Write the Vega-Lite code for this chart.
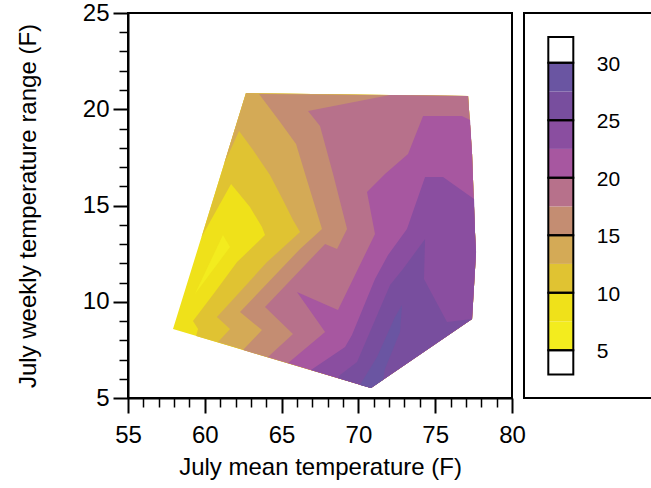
{
  "$schema": "https://vega.github.io/schema/vega-lite/v6.json",
  "background": "white",
  "padding": {"left": 15, "top": 0, "right": 0, "bottom": 5},
  "bounds": "flush",
  "spacing": 12,
  "resolve": {"scale": {"fill": "independent", "x": "independent", "y": "independent"}},
  "config": {
    "font": "Liberation Sans",
    "view": {"stroke": "black", "strokeWidth": 2},
    "axis": {
      "domainColor": "black", "domainWidth": 2, "tickColor": "black",
      "labelColor": "black", "titleColor": "black",
      "labelFontSize": 24, "titleFontSize": 24, "titleFontWeight": "normal",
      "grid": false, "labelFlush": false, "labelOverlap": false
    }
  },
  "datasets": {
    "contours": [
      {"p":"p0","b":"7.5","i":0,"x":62.68,"y":20.84},
      {"p":"p0","b":"7.5","i":1,"x":77.14,"y":20.69},
      {"p":"p0","b":"7.5","i":2,"x":77.40,"y":17.68},
      {"p":"p0","b":"7.5","i":3,"x":77.59,"y":13.62},
      {"p":"p0","b":"7.5","i":4,"x":77.66,"y":12.58},
      {"p":"p0","b":"7.5","i":5,"x":77.40,"y":9.10},
      {"p":"p0","b":"7.5","i":6,"x":70.82,"y":5.52},
      {"p":"p0","b":"7.5","i":7,"x":57.93,"y":8.58},

      {"p":"p1","b":"5","i":0,"x":61.18,"y":13.47},
      {"p":"p1","b":"5","i":1,"x":61.64,"y":12.84},
      {"p":"p1","b":"5","i":2,"x":59.36,"y":10.40},

      {"p":"p2","b":"10","i":0,"x":59.79,"y":13.36},
      {"p":"p2","b":"10","i":1,"x":61.71,"y":16.12},
      {"p":"p2","b":"10","i":2,"x":62.94,"y":14.92},
      {"p":"p2","b":"10","i":3,"x":63.72,"y":13.88},
      {"p":"p2","b":"10","i":4,"x":63.92,"y":13.47},
      {"p":"p2","b":"10","i":5,"x":62.10,"y":12.06},
      {"p":"p2","b":"10","i":6,"x":60.66,"y":10.51},
      {"p":"p2","b":"10","i":7,"x":59.23,"y":9.00},
      {"p":"p2","b":"10","i":8,"x":59.56,"y":8.58},
      {"p":"p2","b":"10","i":9,"x":59.43,"y":8.22},
      {"p":"p2","b":"10","i":10,"x":70.82,"y":5.52},
      {"p":"p2","b":"10","i":11,"x":77.40,"y":9.10},
      {"p":"p2","b":"10","i":12,"x":77.66,"y":12.58},
      {"p":"p2","b":"10","i":13,"x":77.59,"y":13.62},
      {"p":"p2","b":"10","i":14,"x":77.40,"y":17.68},
      {"p":"p2","b":"10","i":15,"x":77.14,"y":20.69},
      {"p":"p2","b":"10","i":16,"x":62.68,"y":20.84},

      {"p":"p3","b":"12.5","i":0,"x":61.25,"y":17.16},
      {"p":"p3","b":"12.5","i":1,"x":62.23,"y":18.87},
      {"p":"p3","b":"12.5","i":2,"x":63.14,"y":17.88},
      {"p":"p3","b":"12.5","i":3,"x":64.24,"y":16.58},
      {"p":"p3","b":"12.5","i":4,"x":65.09,"y":15.29},
      {"p":"p3","b":"12.5","i":5,"x":65.74,"y":14.25},
      {"p":"p3","b":"12.5","i":6,"x":66.20,"y":13.62},
      {"p":"p3","b":"12.5","i":7,"x":64.05,"y":12.06},
      {"p":"p3","b":"12.5","i":8,"x":60.79,"y":9.21},
      {"p":"p3","b":"12.5","i":9,"x":61.64,"y":8.58},
      {"p":"p3","b":"12.5","i":10,"x":60.86,"y":7.91},
      {"p":"p3","b":"12.5","i":11,"x":70.82,"y":5.52},
      {"p":"p3","b":"12.5","i":12,"x":77.40,"y":9.10},
      {"p":"p3","b":"12.5","i":13,"x":77.66,"y":12.58},
      {"p":"p3","b":"12.5","i":14,"x":77.59,"y":13.62},
      {"p":"p3","b":"12.5","i":15,"x":77.40,"y":17.68},
      {"p":"p3","b":"12.5","i":16,"x":77.14,"y":20.69},
      {"p":"p3","b":"12.5","i":17,"x":62.68,"y":20.84},

      {"p":"p4","b":"15","i":0,"x":63.53,"y":20.79},
      {"p":"p4","b":"15","i":1,"x":64.90,"y":19.34},
      {"p":"p4","b":"15","i":2,"x":65.94,"y":18.19},
      {"p":"p4","b":"15","i":3,"x":66.59,"y":16.48},
      {"p":"p4","b":"15","i":4,"x":67.63,"y":13.78},
      {"p":"p4","b":"15","i":5,"x":66.20,"y":12.74},
      {"p":"p4","b":"15","i":6,"x":62.29,"y":9.47},
      {"p":"p4","b":"15","i":7,"x":63.72,"y":8.53},
      {"p":"p4","b":"15","i":8,"x":62.49,"y":7.49},
      {"p":"p4","b":"15","i":9,"x":70.82,"y":5.52},
      {"p":"p4","b":"15","i":10,"x":77.40,"y":9.10},
      {"p":"p4","b":"15","i":11,"x":77.66,"y":12.58},
      {"p":"p4","b":"15","i":12,"x":77.59,"y":13.62},
      {"p":"p4","b":"15","i":13,"x":77.40,"y":17.68},
      {"p":"p4","b":"15","i":14,"x":77.14,"y":20.69},

      {"p":"p5","b":"17.5","i":0,"x":72.06,"y":20.74},
      {"p":"p5","b":"17.5","i":1,"x":66.72,"y":19.91},
      {"p":"p5","b":"17.5","i":2,"x":67.50,"y":19.13},
      {"p":"p5","b":"17.5","i":3,"x":68.35,"y":16.64},
      {"p":"p5","b":"17.5","i":4,"x":69.26,"y":13.78},
      {"p":"p5","b":"17.5","i":5,"x":68.61,"y":12.74},
      {"p":"p5","b":"17.5","i":6,"x":67.83,"y":13.00},
      {"p":"p5","b":"17.5","i":7,"x":63.92,"y":9.73},
      {"p":"p5","b":"17.5","i":8,"x":65.74,"y":8.32},
      {"p":"p5","b":"17.5","i":9,"x":64.11,"y":7.13},
      {"p":"p5","b":"17.5","i":10,"x":70.82,"y":5.52},
      {"p":"p5","b":"17.5","i":11,"x":77.40,"y":9.10},
      {"p":"p5","b":"17.5","i":12,"x":77.66,"y":12.58},
      {"p":"p5","b":"17.5","i":13,"x":77.59,"y":13.62},
      {"p":"p5","b":"17.5","i":14,"x":77.40,"y":17.68},
      {"p":"p5","b":"17.5","i":15,"x":77.14,"y":20.69},

      {"p":"p6","b":"20","i":0,"x":77.27,"y":19.44},
      {"p":"p6","b":"20","i":1,"x":76.74,"y":19.65},
      {"p":"p6","b":"20","i":2,"x":74.21,"y":19.65},
      {"p":"p6","b":"20","i":3,"x":73.23,"y":17.68},
      {"p":"p6","b":"20","i":4,"x":71.73,"y":16.64},
      {"p":"p6","b":"20","i":5,"x":70.56,"y":15.70},
      {"p":"p6","b":"20","i":6,"x":71.08,"y":13.52},
      {"p":"p6","b":"20","i":7,"x":68.67,"y":9.57},
      {"p":"p6","b":"20","i":8,"x":66.00,"y":10.51},
      {"p":"p6","b":"20","i":9,"x":67.83,"y":8.43},
      {"p":"p6","b":"20","i":10,"x":65.42,"y":6.82},
      {"p":"p6","b":"20","i":11,"x":70.82,"y":5.52},
      {"p":"p6","b":"20","i":12,"x":77.40,"y":9.10},
      {"p":"p6","b":"20","i":13,"x":77.66,"y":12.58},
      {"p":"p6","b":"20","i":14,"x":77.59,"y":13.62},
      {"p":"p6","b":"20","i":15,"x":77.40,"y":17.68},

      {"p":"p7","b":"22.5","i":0,"x":77.53,"y":15.34},
      {"p":"p7","b":"22.5","i":1,"x":75.51,"y":16.48},
      {"p":"p7","b":"22.5","i":2,"x":74.34,"y":16.48},
      {"p":"p7","b":"22.5","i":3,"x":73.16,"y":13.78},
      {"p":"p7","b":"22.5","i":4,"x":71.93,"y":12.43},
      {"p":"p7","b":"22.5","i":5,"x":71.08,"y":11.18},
      {"p":"p7","b":"22.5","i":6,"x":69.58,"y":8.27},
      {"p":"p7","b":"22.5","i":7,"x":69.13,"y":7.65},
      {"p":"p7","b":"22.5","i":8,"x":66.91,"y":6.45},
      {"p":"p7","b":"22.5","i":9,"x":70.82,"y":5.52},
      {"p":"p7","b":"22.5","i":10,"x":77.40,"y":9.10},
      {"p":"p7","b":"22.5","i":11,"x":77.66,"y":12.58},
      {"p":"p7","b":"22.5","i":12,"x":77.59,"y":13.62},

      {"p":"p8","b":"25","i":0,"x":77.40,"y":9.10},
      {"p":"p8","b":"25","i":1,"x":75.77,"y":8.95},
      {"p":"p8","b":"25","i":2,"x":74.27,"y":11.18},
      {"p":"p8","b":"25","i":3,"x":74.34,"y":13.26},
      {"p":"p8","b":"25","i":4,"x":72.90,"y":11.70},
      {"p":"p8","b":"25","i":5,"x":72.06,"y":10.87},
      {"p":"p8","b":"25","i":6,"x":69.91,"y":6.87},
      {"p":"p8","b":"25","i":7,"x":68.80,"y":6.19},
      {"p":"p8","b":"25","i":8,"x":68.67,"y":6.04},
      {"p":"p8","b":"25","i":9,"x":70.82,"y":5.52},

      {"p":"p9","b":"27.5","i":0,"x":72.84,"y":9.83},
      {"p":"p9","b":"27.5","i":1,"x":72.71,"y":8.43},
      {"p":"p9","b":"27.5","i":2,"x":71.73,"y":6.51},
      {"p":"p9","b":"27.5","i":3,"x":71.60,"y":5.94},
      {"p":"p9","b":"27.5","i":4,"x":70.82,"y":5.52},
      {"p":"p9","b":"27.5","i":5,"x":70.10,"y":5.68},
      {"p":"p9","b":"27.5","i":6,"x":71.21,"y":7.13},
      {"p":"p9","b":"27.5","i":7,"x":72.38,"y":9.21}
    ],
    "cbands": [
      {"bar":"c","b":"white","lo":2.88,"hi":5},
      {"bar":"c","b":"5","lo":5,"hi":7.5},
      {"bar":"c","b":"7.5","lo":7.5,"hi":10},
      {"bar":"c","b":"10","lo":10,"hi":12.5},
      {"bar":"c","b":"12.5","lo":12.5,"hi":15},
      {"bar":"c","b":"15","lo":15,"hi":17.5},
      {"bar":"c","b":"17.5","lo":17.5,"hi":20},
      {"bar":"c","b":"20","lo":20,"hi":22.5},
      {"bar":"c","b":"22.5","lo":22.5,"hi":25},
      {"bar":"c","b":"25","lo":25,"hi":27.5},
      {"bar":"c","b":"27.5","lo":27.5,"hi":30},
      {"bar":"c","b":"white","lo":30,"hi":32.23}
    ],
    "cboxes": [
      {"bar":"c","lo":2.88,"hi":5},
      {"bar":"c","lo":5,"hi":10},
      {"bar":"c","lo":10,"hi":15},
      {"bar":"c","lo":15,"hi":20},
      {"bar":"c","lo":20,"hi":25},
      {"bar":"c","lo":25,"hi":30},
      {"bar":"c","lo":30,"hi":32.23}
    ],
    "clabels": [
      {"bar":"c","v":5},
      {"bar":"c","v":10},
      {"bar":"c","v":15},
      {"bar":"c","v":20},
      {"bar":"c","v":25},
      {"bar":"c","v":30}
    ]
  },
  "hconcat": [
    {
      "width": 384,
      "height": 385,
      "data": {"name": "contours"},
      "mark": {"type": "line", "strokeWidth": 0, "interpolate": "linear", "clip": true},
      "encoding": {
        "x": {
          "field": "x", "type": "quantitative",
          "scale": {"domain": [55, 80], "nice": false, "zero": false},
          "axis": {
            "title": "July mean temperature (F)",
            "values": [55,56,57,58,59,60,61,62,63,64,65,66,67,68,69,70,71,72,73,74,75,76,77,78,79,80],
            "labelExpr": "datum.value % 5 === 0 ? datum.label : ''",
            "tickSize": {"condition": {"test": "datum.value % 5 === 0", "value": 15}, "value": 9},
            "tickWidth": {"condition": {"test": "datum.value % 5 === 0", "value": 2}, "value": 1.5},
            "labelPadding": 10,
            "titlePadding": 8
          }
        },
        "y": {
          "field": "y", "type": "quantitative",
          "scale": {"domain": [5, 25], "nice": false, "zero": false},
          "axis": {
            "title": "July weekly temperature range (F)",
            "values": [5,6,7,8,9,10,11,12,13,14,15,16,17,18,19,20,21,22,23,24,25],
            "labelExpr": "datum.value % 5 === 0 ? datum.label : ''",
            "tickSize": {"condition": {"test": "datum.value % 5 === 0", "value": 15}, "value": 9},
            "tickWidth": {"condition": {"test": "datum.value % 5 === 0", "value": 2}, "value": 1.5},
            "labelPadding": 4,
            "titlePadding": 42
          }
        },
        "detail": {"field": "p"},
        "order": {"field": "i", "type": "quantitative"},
        "fill": {
          "field": "b", "type": "nominal", "legend": null,
          "scale": {
            "domain": ["5","7.5","10","12.5","15","17.5","20","22.5","25","27.5"],
            "range": ["#f3ec1e","#efe11a","#e0c332","#d4aa56","#c48d72","#b7718b","#a757a0","#8a4ea0","#784e9e","#6a55a2"]
          }
        }
      }
    },
    {
      "width": 140,
      "height": 385,
      "layer": [
        {
          "data": {"name": "cbands"},
          "mark": {"type": "rect", "strokeWidth": 0, "width": 25},
          "encoding": {
            "x": {"field": "bar", "type": "nominal", "axis": null,
                  "scale": {"type": "band", "paddingInner": 0, "paddingOuter": 1, "align": 0.1443}},
            "y": {"field": "lo", "type": "quantitative", "axis": null,
                  "scale": {"domain": [0.84, 34.32], "nice": false, "zero": false}},
            "y2": {"field": "hi"},
            "fill": {
              "field": "b", "type": "nominal", "legend": null,
              "scale": {
                "domain": ["white","5","7.5","10","12.5","15","17.5","20","22.5","25","27.5"],
                "range": ["#ffffff","#f3ec1e","#efe11a","#e0c332","#d4aa56","#c48d72","#b7718b","#a757a0","#8a4ea0","#784e9e","#6a55a2"]
              }
            }
          }
        },
        {
          "data": {"name": "cboxes"},
          "mark": {"type": "rect", "filled": false, "stroke": "black", "strokeWidth": 2, "width": 25},
          "encoding": {
            "x": {"field": "bar", "type": "nominal", "axis": null,
                  "scale": {"type": "band", "paddingInner": 0, "paddingOuter": 1, "align": 0.1443}},
            "y": {"field": "lo", "type": "quantitative", "axis": null},
            "y2": {"field": "hi"}
          }
        },
        {
          "data": {"name": "clabels"},
          "mark": {"type": "text", "align": "left", "baseline": "middle", "dx": 36, "dy": 2, "fontSize": 21, "color": "black"},
          "encoding": {
            "x": {"field": "bar", "type": "nominal", "axis": null,
                  "scale": {"type": "band", "paddingInner": 0, "paddingOuter": 1, "align": 0.1443}},
            "y": {"field": "v", "type": "quantitative", "axis": null},
            "text": {"field": "v", "type": "quantitative"}
          }
        }
      ]
    }
  ]
}
